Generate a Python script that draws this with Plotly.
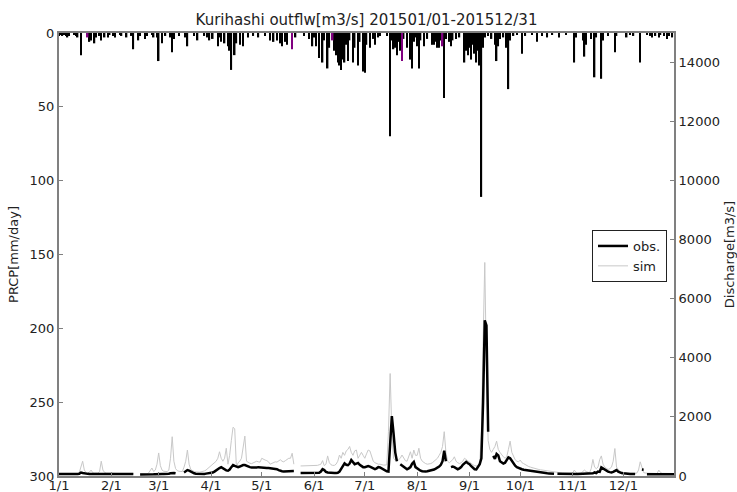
import pandas as pd
import plotly.graph_objects as go

N = None

# ---- daily data, 2015-01-01 .. 2015-12-31 (365 days) ----
dates = pd.date_range("2015-01-01", periods=365, freq="D")

prcp = (
    # Jan
    [2,1,2,1,2,3,2,0,0,1, 2,3,0,15,0,0,0,2,6,5, 0,7,3,0,2,5,0,3,0,3, 1]
    # Feb
    + [0,2,3,0,0,1,2,0,0,3, 0,0,2,11,0,0,5,2,0,0, 4,2,0,0,1,3,0,3]
    # Mar
    + [19,0,7,0,2,0,0,3,13,4, 0,0,2,0,0,0,3,9,0,0, 0,2,0,5,0,0,0,2,0,3, 5]
    # Apr
    + [0,4,0,0,9,3,6,0,7,0, 9,12,25,0,15,7,0,8,0,9, 0,0,3,0,0,2,0,0,3,0]
    # May
    + [0,0,2,0,0,5,0,6,0,5, 0,7,9,0,6,8,0,0,0,0, 3,0,0,0,0,2,0,0,4,0, 9]
    # Jun
    + [3,9,0,17,0,20,5,0,24,10, 0,0,12,15,20,22,25,18,20,8, 19,5,0,20,10,0,22,6,0,26]
    # Jul
    + [27,8,0,10,0,4,8,0,3,2, 0,0,0,2,0,70,5,11,10,15, 6,12,8,4,0,10,0,18,24,6, 3]
    # Aug
    + [9,24,5,0,9,0,4,0,0,8, 8,6,10,10,5,3,44,4,0,6, 9,5,0,4,0,3,0,0,20,12, 15]
    # Sep
    + [10,18,8,14,20,12,22,111,10,3, 0,2,0,4,0,8,19,9,4,0, 3,0,10,38,5,0,2,0,1,0]
    # Oct
    + [0,14,0,2,0,0,0,1,0,0, 6,0,0,2,0,0,3,0,0,1, 0,0,0,3,0,0,0,1,0,0, 0]
    # Nov
    + [0,20,3,0,0,0,5,16,8,0, 0,4,0,30,3,0,0,31,5,0, 0,2,0,0,0,13,2,0,0,0]
    # Dec
    + [0,0,3,0,1,0,2,0,0,0, 20,0,0,0,1,0,2,3,0,2, 0,3,1,0,2,0,4,2,0,3, 0]
)

purple_dates = ["2015-01-18", "2015-05-19", "2015-06-12", "2015-07-23", "2015-08-16"]
purple_vals = [3, 11, 5, 19, 9]

obs = (
    [70,68,68,70,68,66,66,68,70,70, 70,68,75,115,100,85,75,72,70,70, 70,72,75,80,90,82,75,72,70,70, 68]
    + [68,66,66,65,65,65,64,64,64,65, 65,66,66,68,N,N,N,55,52,50, 50,52,55,58,60,58,60,65]
    + [80,75,70,68,66,70,80,95,110,100, 90,N,N,N,N,120,160,200,180,140, 110,90,80,75,70,68,66,70,80,90, 95]
    + [100,120,150,200,250,270,300,260,220,190, 180,220,300,370,340,310,300,320,350,370, 370,340,310,300,290,285,280,290,300,290]
    + [285,280,280,275,270,265,260,250,240,230, 200,170,160,155,160,165,170,160,165,170, N,N,N,100,100,98,96,98,100,100, 102]
    + [100,102,105,110,150,230,200,140,120,110, 105,100,100,105,110,150,250,330,430,380, 370,420,540,470,400,420,440,380,330,300]
    + [300,320,340,320,280,240,230,260,300,290, 260,220,180,160,150,1000,2030,1450,800,500, N,400,350,300,250,230,260,300,420,480, 300]
    + [250,220,180,160,150,150,160,170,190,200, 220,250,280,320,380,500,860,500,N,N, 300,320,300,250,230,260,300,380,450,480, 430]
    + [400,330,280,230,220,300,400,600,2500,5270, 5100,1500,N,N,680,580,750,700,500,450, 420,450,550,630,600,500,400,350,300,270]
    + [250,230,210,200,190,180,170,160,150,140, 130,120,110,105,100,95,90,88,85,80, 78,N,75,72,70,70,68,66,65,65, 65]
    + [65,65,66,68,70,70,72,75,75,72, 70,75,90,120,100,150,140,290,250,200, 180,150,130,120,140,160,200,150,120,100]
    + [90,80,75,70,68,66,65,64,N,N, N,220,210,N,60,60,58,58,58,56, 56,55,55,55,56,56,55,55,55,56, 56]
)

sim = (
    [70,70,72,72,70,70,72,75,78,80, 80,85,120,300,500,200,120,100,130,200, 110,100,95,100,150,500,200,120,100,95, 90]
    + [85,80,80,78,78,76,76,75,75,75, 78,80,80,82,N,N,N,70,68,66, 65,66,100,180,270,150,200,400]
    + [780,350,200,160,150,150,200,600,1330,500, 250,180,160,150,150,300,500,880,400,220, 180,150,140,130,130,140,150,170,200,250, 300]
    + [350,400,450,500,600,820,600,500,600,940, 400,700,1200,1650,1600,300,450,500,600,1000, 1350,500,450,430,420,450,480,500,480,470]
    + [600,560,540,520,480,400,420,450,480,470, 500,550,500,480,520,560,600,600,770,400, N,N,N,340,340,345,350,350,350,345, 350]
    + [350,350,360,380,400,520,350,400,680,450, 380,360,360,400,500,710,600,800,700,850, 900,1000,800,700,850,880,600,700,800,700]
    + [600,750,880,850,650,500,450,420,400,400, 380,370,370,380,1500,3470,1500,600,540,500, 550,600,710,600,520,500,650,820,600,880, 700]
    + [700,940,600,500,450,420,400,400,420,450, 500,550,600,700,800,1000,1500,800,500,450, 500,550,650,500,450,420,450,500,600,550, 500]
    + [450,400,380,350,340,330,400,1500,4500,7230, 3500,1200,900,800,900,1000,1180,900,800,700, 650,600,650,900,1180,800,650,550,500,480]
    + [540,450,420,380,350,320,300,280,260,240, 230,220,210,200,190,180,170,160,150,150, 140,130,120,110,110,100,100,95,95,90, 90]
    + [100,200,120,100,95,95,150,200,150,120, 110,250,560,300,250,300,550,680,400,300, 250,220,250,300,500,930,300,200,150,130]
    + [110,100,100,95,95,90,90,90,100,200, 480,250,120,100,95,90,90,88,85,85, 85,200,120,90,85,85,85,85,85,85, 85]
)

month_ticks = ["2015-%02d-01" % m for m in range(1, 13)]
month_labels = ["%d/1" % m for m in range(1, 13)]
prcp_ticks = [0, 50, 100, 150, 200, 250, 300]
q_ticks = [0, 2000, 4000, 6000, 8000, 10000, 12000, 14000]
q_labels = [str(v) for v in q_ticks]

FONT = "DejaVu Sans"
AX = "#808080"
DAY_MS = 86400000

fig = go.Figure()
fig.add_trace(go.Bar(x=dates, y=prcp, marker=dict(color="black", line=dict(width=0)),
                     width=0.9 * DAY_MS, yaxis="y", showlegend=False))
fig.add_trace(go.Bar(x=pd.to_datetime(purple_dates), y=purple_vals,
                     marker=dict(color="#800080", line=dict(width=0)),
                     width=0.9 * DAY_MS, yaxis="y", showlegend=False))
fig.add_trace(go.Scatter(x=dates, y=sim, mode="lines", name="sim",
                         line=dict(color="#c8c8c8", width=1), yaxis="y2",
                         connectgaps=False))
fig.add_trace(go.Scatter(x=dates, y=obs, mode="lines", name="obs.",
                         line=dict(color="black", width=2.5), yaxis="y2",
                         connectgaps=False))

fig.update_layout(
    width=737, height=492,
    margin=dict(l=59, r=63, t=33, b=16, autoexpand=False),
    paper_bgcolor="white", plot_bgcolor="white",
    font=dict(family=FONT, size=13, color="#222222"),
    barmode="overlay",
    title=dict(text="Kurihashi outflw[m3/s] 201501/01-201512/31",
               x=0.5, xref="paper", xanchor="center",
               y=1 - 20 / 492, yref="container", yanchor="middle",
               font=dict(family=FONT, size=15, color="#222222")),
    xaxis=dict(type="date", range=["2015-01-01", "2015-12-31"],
               tickvals=month_ticks, ticktext=month_labels,
               ticks="inside", ticklen=4, tickcolor=AX,
               showline=True, mirror=True, linecolor=AX, linewidth=2,
               showgrid=False, zeroline=False, automargin=False,
               ticklabelstandoff=-4,
               tickfont=dict(size=13)),
    yaxis=dict(range=[300, 0], tickvals=prcp_ticks,
               ticks="inside", ticklen=4, tickcolor=AX,
               showline=True, linecolor=AX, linewidth=2,
               showgrid=False, zeroline=False, automargin=False,
               title=dict(text="PRCP[mm/day]", font=dict(size=13), standoff=8),
               tickfont=dict(size=13)),
    yaxis2=dict(overlaying="y", side="right", range=[0, 15000],
                tickvals=q_ticks, ticktext=q_labels,
                ticks="inside", ticklen=4, tickcolor=AX,
                showline=True, linecolor=AX, linewidth=2,
                showgrid=False, zeroline=False, automargin=False,
                title=dict(text="Discharge[m3/s]", font=dict(size=13), standoff=6),
                tickfont=dict(size=13)),
    legend=dict(x=0.9886, xanchor="right", y=0.5553, yanchor="top",
                bgcolor="white", bordercolor="#222222", borderwidth=1,
                font=dict(size=13), traceorder="reversed",
                tracegroupgap=0, itemwidth=30),
)

fig.write_html("out.html", config={"displayModeBar": False},
               post_script="document.body.style.margin='0';document.body.style.padding='0';")
